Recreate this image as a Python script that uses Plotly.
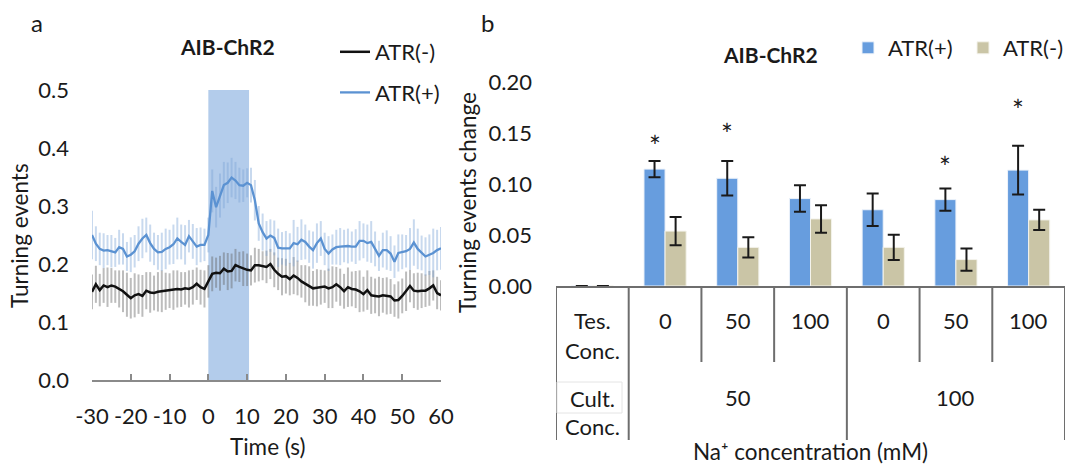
import plotly.graph_objects as go

# ---------------- data: panel a (time course) ----------------
TIME = list(range(-30, 61))  # seconds, one sample per second
ATR_MINUS = [0.152, 0.165, 0.155, 0.163, 0.160, 0.163, 0.161, 0.157, 0.153, 0.147,
             0.141, 0.146, 0.148, 0.145, 0.154, 0.151, 0.150, 0.152, 0.153, 0.153,
             0.154, 0.155, 0.157, 0.156, 0.158, 0.157, 0.160, 0.166, 0.160, 0.157,
             0.170, 0.183, 0.185, 0.184, 0.192, 0.187, 0.188, 0.198, 0.195, 0.192,
             0.190, 0.189, 0.198, 0.198, 0.197, 0.195, 0.200, 0.190, 0.183, 0.178,
             0.179, 0.174, 0.180, 0.176, 0.170, 0.166, 0.162, 0.158, 0.159, 0.160,
             0.161, 0.158, 0.160, 0.165, 0.160, 0.153, 0.160, 0.157, 0.156, 0.153,
             0.148, 0.155, 0.146, 0.145, 0.144, 0.146, 0.145, 0.144, 0.137, 0.138,
             0.145, 0.153, 0.162, 0.154, 0.153, 0.154, 0.154, 0.158, 0.163, 0.150,
             0.146]
ERR_MINUS = [0.030, 0.032, 0.028, 0.030, 0.034, 0.030, 0.028, 0.032, 0.036, 0.038,
             0.035, 0.038, 0.034, 0.036, 0.032, 0.035, 0.030, 0.034, 0.036, 0.032,
             0.030, 0.034, 0.032, 0.030, 0.028, 0.032, 0.030, 0.028, 0.030, 0.032,
             0.028, 0.030, 0.026, 0.030, 0.028, 0.032, 0.030, 0.028, 0.026, 0.030,
             0.028, 0.026, 0.030, 0.028, 0.025, 0.028, 0.026, 0.030, 0.028, 0.032,
             0.030, 0.028, 0.032, 0.030, 0.028, 0.032, 0.034, 0.030, 0.032, 0.030,
             0.028, 0.034, 0.036, 0.030, 0.032, 0.030, 0.034, 0.030, 0.032, 0.036,
             0.030, 0.034, 0.032, 0.030, 0.034, 0.030, 0.032, 0.030, 0.028, 0.032,
             0.030, 0.034, 0.028, 0.030, 0.032, 0.030, 0.028, 0.030, 0.026, 0.028,
             0.026]
ATR_PLUS = [0.250, 0.235, 0.226, 0.223, 0.224, 0.222, 0.220, 0.229, 0.226, 0.213,
            0.216, 0.222, 0.235, 0.244, 0.250, 0.236, 0.226, 0.220, 0.221, 0.226,
            0.229, 0.234, 0.244, 0.238, 0.233, 0.248, 0.239, 0.230, 0.233, 0.233,
            0.250, 0.326, 0.298, 0.318, 0.336, 0.340, 0.349, 0.344, 0.336, 0.335,
            0.340, 0.336, 0.310, 0.270, 0.255, 0.244, 0.249, 0.245, 0.228, 0.227,
            0.227, 0.227, 0.236, 0.234, 0.242, 0.238, 0.230, 0.224, 0.236, 0.244,
            0.226, 0.218, 0.225, 0.229, 0.230, 0.231, 0.231, 0.230, 0.230, 0.240,
            0.240, 0.236, 0.238, 0.226, 0.214, 0.224, 0.224, 0.218, 0.204, 0.219,
            0.221, 0.222, 0.226, 0.237, 0.226, 0.219, 0.213, 0.216, 0.219, 0.224,
            0.227]
ERR_PLUS = [0.042, 0.030, 0.028, 0.030, 0.026, 0.028, 0.025, 0.030, 0.027, 0.025,
            0.030, 0.028, 0.030, 0.034, 0.030, 0.032, 0.028, 0.030, 0.033, 0.035,
            0.030, 0.034, 0.036, 0.030, 0.034, 0.028, 0.030, 0.032, 0.030, 0.028,
            0.030, 0.037, 0.035, 0.038, 0.040, 0.035, 0.034, 0.032, 0.030, 0.028,
            0.025, 0.030, 0.035, 0.030, 0.032, 0.030, 0.028, 0.030, 0.033, 0.028,
            0.030, 0.026, 0.040, 0.030, 0.035, 0.030, 0.028, 0.032, 0.034, 0.030,
            0.028, 0.030, 0.026, 0.030, 0.032, 0.028, 0.030, 0.026, 0.030, 0.034,
            0.030, 0.032, 0.036, 0.030, 0.026, 0.030, 0.034, 0.030, 0.028, 0.032,
            0.030, 0.028, 0.036, 0.040, 0.035, 0.030, 0.033, 0.035, 0.042, 0.035,
            0.037]
STIM_START, STIM_END = 0, 10.5
TIME_TICKS = [-30, -20, -10, 0, 10, 20, 30, 40, 50, 60]
TIME_TICK_TEXT = ["-30", "-20", "-10", "0", "10", "20", "30", "40", "50", "60"]
A_YTICKS = [0.0, 0.1, 0.2, 0.3, 0.4, 0.5]

# ---------------- data: panel b (bars) ----------------
CATS = [0, 1, 2, 3, 4, 5, 6]
B_PLUS = [0, 0.115, 0.106, 0.086, 0.075, 0.085, 0.114]
B_PLUS_ERR = [0, 0.008, 0.017, 0.013, 0.016, 0.011, 0.024]
B_MINUS = [0, 0.054, 0.038, 0.066, 0.038, 0.026, 0.065]
B_MINUS_ERR = [0, 0.014, 0.010, 0.0135, 0.0125, 0.011, 0.010]
STAR_CATS = [1, 2, 5, 6]
STAR_Y = [0.144, 0.155, 0.123, 0.179]
TES_LABELS = ["0", "50", "100", "0", "50", "100"]
CULT_LABELS = ["50", "100"]
CULT_CENTERS = [2, 5]
B_YTICKS = [0.0, 0.05, 0.10, 0.15, 0.20]

# ---------------- layout helpers ----------------
W, H = 1068, 464
FONT = "Lato"
TXT = "#1a1a1a"
FS = 22       # tick labels, table text, legends
FS_T = 22.5   # axis titles


def fx(p):
    return p / W


def fy(p):
    return 1 - p / H


BLUE_LINE = "#5b92d2"
BLUE_BAR = "#679dde"
TAN_BAR = "#cac5a6"
AXIS_GREY = "#8a8a8a"

fig = go.Figure()

# panel a traces
fig.add_trace(go.Scatter(
    x=TIME, y=ATR_MINUS, mode="lines", name="ATR(-)",
    line=dict(color="#111111", width=2.5),
    error_y=dict(type="data", array=ERR_MINUS, color="rgba(95,95,95,0.42)", thickness=2, width=0),
    xaxis="x", yaxis="y", legend="legend", legendgroup="m"))
fig.add_trace(go.Scatter(
    x=TIME, y=ATR_PLUS, mode="lines", name="ATR(+)",
    line=dict(color=BLUE_LINE, width=2.3),
    error_y=dict(type="data", array=ERR_PLUS, color="rgba(125,165,215,0.42)", thickness=2, width=0),
    xaxis="x", yaxis="y", legend="legend", legendgroup="p"))

# panel b traces
fig.add_trace(go.Bar(
    x=CATS, y=B_PLUS, name="ATR(+)", marker=dict(color=BLUE_BAR, line=dict(color="#eef3fa", width=1)),
    error_y=dict(type="data", array=B_PLUS_ERR, color=TXT, thickness=2, width=6),
    xaxis="x2", yaxis="y2", legend="legend2"))
fig.add_trace(go.Bar(
    x=CATS, y=B_MINUS, name="ATR(-)", marker=dict(color=TAN_BAR, line=dict(color="#f4f3ec", width=1)),
    error_y=dict(type="data", array=B_MINUS_ERR, color=TXT, thickness=2, width=6),
    xaxis="x2", yaxis="y2", legend="legend3"))

A_X = [92.0, 441.0]
A_Y = [380.0, 90.0]
B_X = [556.0, 1065.0]
B_Y = [286.0, 82.7]
A_XR = [-30, 60]
B_XR = [-0.5, 6.5]


def pos_in(dom, rng, v):
    return fx(dom[0] + (v - rng[0]) / (rng[1] - rng[0]) * (dom[1] - dom[0]))


tickfont = dict(family=FONT, size=FS, color=TXT)
legfont = dict(family=FONT, size=FS, color=TXT)

fig.update_layout(
    width=W, height=H, margin=dict(l=0, r=0, t=0, b=0, autoexpand=False),
    paper_bgcolor="white", plot_bgcolor="rgba(0,0,0,0)",
    font=dict(family=FONT, size=FS, color=TXT),
    barmode="group", bargap=0.42, bargroupgap=0,
    xaxis=dict(domain=[fx(A_X[0]), fx(A_X[1])], range=A_XR, tickvals=TIME_TICKS, ticktext=TIME_TICK_TEXT,
               ticks="inside", ticklen=6, tickcolor=AXIS_GREY, tickwidth=1.5, tickangle=0,
               showline=True, linecolor=AXIS_GREY, linewidth=1.5, showgrid=False, zeroline=False,
               tickfont=tickfont, ticklabelstandoff=16, anchor="y", automargin=False),
    yaxis=dict(domain=[fy(A_Y[0]), fy(A_Y[1])], range=[0, 0.5], tickvals=A_YTICKS, tickformat=".1f",
               showline=False, ticks="", showgrid=False, zeroline=False,
               tickfont=tickfont, ticklabelstandoff=22, anchor="x", automargin=False),
    yaxis3=dict(domain=[fy(A_Y[0]), fy(A_Y[1])], range=[0, 0.5], tickvals=A_YTICKS, overlaying="y",
                anchor="free", position=pos_in(A_X, A_XR, 0), showline=True, linecolor=AXIS_GREY,
                linewidth=1.5, ticks="outside", ticklen=5, tickcolor=AXIS_GREY, tickwidth=1.5,
                showticklabels=False, showgrid=False, zeroline=False, automargin=False),
    xaxis2=dict(domain=[fx(B_X[0]), fx(B_X[1])], range=B_XR, showticklabels=False, ticks="",
                showline=True, linecolor="#6e6e6e", linewidth=2, showgrid=False, zeroline=False,
                anchor="y2", automargin=False),
    yaxis2=dict(domain=[fy(B_Y[0]), fy(B_Y[1])], range=[0, 0.2], tickvals=B_YTICKS, tickformat=".2f",
                showline=False, ticks="", showgrid=False, zeroline=False,
                tickfont=tickfont, ticklabelstandoff=23, anchor="x2", automargin=False),
    yaxis4=dict(domain=[fy(B_Y[0]), fy(B_Y[1])], range=[0, 0.2], tickvals=B_YTICKS, overlaying="y2",
                anchor="free", position=pos_in(B_X, B_XR, 0.5), showline=True, linecolor="#6e6e6e",
                linewidth=2, ticks="outside", ticklen=7, tickcolor="#6e6e6e", tickwidth=2,
                showticklabels=False, showgrid=False, zeroline=False, automargin=False),
    legend=dict(x=fx(335), y=fy(31), xanchor="left", yanchor="top", bgcolor="rgba(0,0,0,0)",
                font=legfont, tracegroupgap=9, itemwidth=30),
    legend2=dict(x=fx(848), y=fy(27), xanchor="left", yanchor="top",
                 bgcolor="rgba(0,0,0,0)", font=legfont, itemwidth=30),
    legend3=dict(x=fx(963), y=fy(27), xanchor="left", yanchor="top",
                 bgcolor="rgba(0,0,0,0)", font=legfont, itemwidth=30),
    showlegend=True,
)

# stimulus window
fig.add_shape(type="rect", xref="x", yref="y", x0=STIM_START, x1=STIM_END, y0=-0.008, y1=0.5,
              fillcolor="#b3cceb", line=dict(width=0), layer="below")

# table lines under panel b
long_b = [-0.5, 0.5, 3.5, 6.5]
short_b = [1.5, 2.5, 4.5, 5.5]
for xb in long_b:
    fig.add_shape(type="line", xref="x2", yref="paper", x0=xb, x1=xb, y0=fy(286), y1=fy(440),
                  line=dict(color="#6e6e6e", width=2))
for xb in short_b:
    fig.add_shape(type="line", xref="x2", yref="paper", x0=xb, x1=xb, y0=fy(286), y1=fy(362),
                  line=dict(color="#6e6e6e", width=2))
# faint box around "Cult."
fig.add_shape(type="rect", xref="paper", yref="paper", x0=fx(557), x1=fx(622), y0=fy(413), y1=fy(382),
              line=dict(color="#e4e4e4", width=1))

ann = []


def txt(x, y, s, xref="paper", yref="paper", size=FS, angle=0, **kw):
    ann.append(dict(x=x, y=y, xref=xref, yref=yref, text=s, showarrow=False, textangle=angle,
                    font=dict(family=FONT, size=size, color=TXT), xanchor="center", yanchor="middle", **kw))


txt(fx(37), fy(23), "a", size=24)
txt(fx(487), fy(22), "b", size=24)
txt(fx(227), fy(47), "<b>AIB-ChR2</b>", size=21)
txt(fx(770), fy(55), "<b>AIB-ChR2</b>", size=21)
txt(fx(20), fy(236), "Turning events", size=FS_T, angle=-90)
txt(fx(268), fy(446), "Time (s)", size=FS_T)
txt(fx(467), fy(203), "Turning events change", size=FS_T, angle=-90)
txt(fx(810), fy(451), "Na⁺ concentration (mM)", size=FS_T)
txt(0, fy(320), "Tes.", xref="x2")
txt(0, fy(350), "Conc.", xref="x2")
txt(0, fy(398), "Cult.", xref="x2")
txt(0, fy(426), "Conc.", xref="x2")
for i, lab in enumerate(TES_LABELS):
    txt(CATS[i + 1], fy(320), lab, xref="x2")
for c, lab in zip(CULT_CENTERS, CULT_LABELS):
    txt(c, fy(397), lab, xref="x2")
for c, sy in zip(STAR_CATS, STAR_Y):
    txt(c - 0.145, sy, "*", xref="x2", yref="y2", size=28, yshift=-6)

fig.update_layout(annotations=ann)

fig.write_html("out.html")
